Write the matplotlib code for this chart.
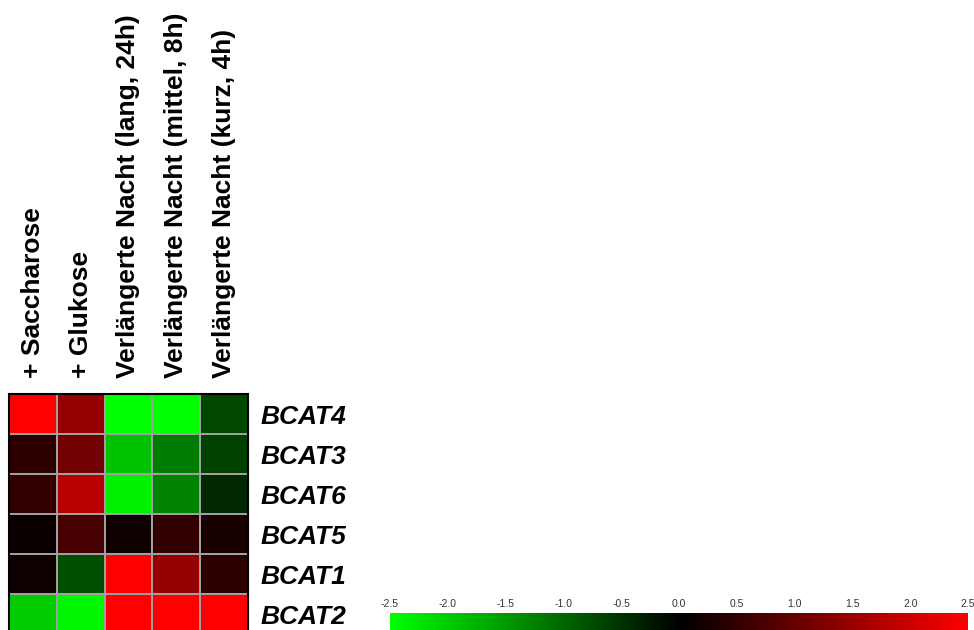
import numpy as np
import matplotlib
matplotlib.use('Agg')
import matplotlib.pyplot as plt
from matplotlib.colors import LinearSegmentedColormap

plt.rcParams['font.family'] = ['Liberation Sans', 'DejaVu Sans']
plt.rcParams['axes.unicode_minus'] = False

conditions = ['+ Saccharose', '+ Glukose',
              'Verlängerte Nacht (lang, 24h)',
              'Verlängerte Nacht (mittel, 8h)',
              'Verlängerte Nacht (kurz, 4h)']
genes = ['BCAT4', 'BCAT3', 'BCAT6', 'BCAT5', 'BCAT1', 'BCAT2']

# log ratios per gene (rows) and condition (columns)
bcat4 = [2.5, 1.47, -2.5, -2.5, -0.69]
bcat3 = [0.44, 1.13, -1.91, -1.23, -0.64]
bcat6 = [0.49, 1.81, -2.35, -1.27, -0.39]
bcat5 = [0.10, 0.69, 0.15, 0.49, 0.25]
bcat1 = [0.15, -0.78, 2.5, 1.47, 0.44]
bcat2 = [-2.0, -2.4, 2.5, 2.5, 2.5]

scale_ticks = [-2.5, -2.0, -1.5, -1.0, -0.5, 0.0, 0.5, 1.0, 1.5, 2.0, 2.5]
scale_labels = ['-2.5', '-2.0', '-1.5', '-1.0', '-0.5', '0.0', '0.5', '1.0', '1.5', '2.0', '2.5']

values = np.array([bcat4, bcat3, bcat6, bcat5, bcat1, bcat2])

cmap = LinearSegmentedColormap.from_list('gkr', [(0, 1, 0), (0, 0, 0), (1, 0, 0)])

fig = plt.figure(figsize=(9.74, 6.3), dpi=100)

ax = fig.add_axes([9/974, -4/630, 239/974, 240/630])
mesh = ax.pcolormesh(values, cmap=cmap, vmin=-2.5, vmax=2.5,
                     edgecolors='#a0a0a0', linewidth=1.3)
ax.set_xlim(0, values.shape[1])
ax.set_ylim(values.shape[0], 0)

# tick_params first: changing pad rebuilds the tick labels
ax.xaxis.tick_top()
ax.yaxis.tick_right()
ax.tick_params(axis='x', length=0, pad=11.5)
ax.tick_params(axis='y', length=0, pad=9)

ax.set_xticks(np.arange(len(conditions)) + 0.5)
ax.set_xticklabels(conditions, rotation=90, fontsize=19, fontweight='bold')

ax.set_yticks(np.arange(len(genes)) + 0.5)
ax.set_yticklabels(genes, fontsize=19, fontweight='bold', fontstyle='italic')

for s in ax.spines.values():
    s.set_color('black')
    s.set_linewidth(1.5)

# colour scale along the bottom
cax = fig.add_axes([390/974, 0, 578/974, 17/630])
cb = fig.colorbar(mesh, cax=cax, orientation='horizontal', ticks=scale_ticks)
cb.outline.set_visible(False)
cax.xaxis.set_ticks_position('top')
cax.tick_params(axis='x', length=0, pad=3, labelsize=7.5, labelcolor='#333333')
cb.set_ticklabels(scale_labels)

fig.savefig('out.png', dpi=100)
